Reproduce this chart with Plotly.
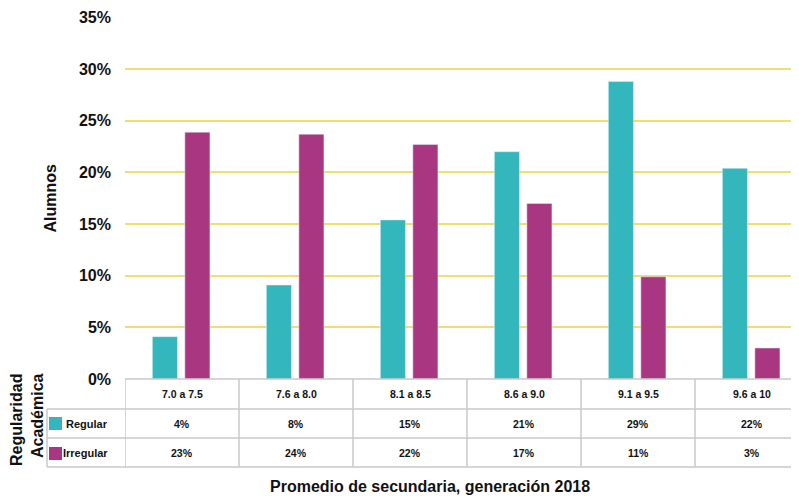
import plotly.graph_objects as go

# ---- data ----
categories = ["7.0 a 7.5", "7.6 a 8.0", "8.1 a 8.5", "8.6 a 9.0", "9.1 a 9.5", "9.6 a 10"]
regular = [4.1, 9.1, 15.4, 22.0, 28.8, 20.4]
irregular = [23.9, 23.7, 22.7, 17.0, 9.9, 3.0]
regular_labels = ["4%", "8%", "15%", "21%", "29%", "22%"]
irregular_labels = ["23%", "24%", "22%", "17%", "11%", "3%"]
series_names = ["Regular", "Irregular"]
y_ticks = [0, 5, 10, 15, 20, 25, 30, 35]

TEAL = "#33B7BD"
MAGENTA = "#A83681"
GRID = "#F2DE70"
BORDER = "#C8C8C8"
TXT = "#111111"
FONT = "Liberation Sans, Arial, Helvetica, sans-serif"

OFF = 8  # page offset of the figure (default body margin)
W, H = 799, 496
PLOT_LEFT_PAGE = 125
ML, MR, MT, MB = PLOT_LEFT_PAGE - OFF, 0, 0, 0
PW, PH = W - ML - MR, H - MT - MB
COL_W = 114.0  # pixel width of one category column


def py(p):  # page pixel y -> paper
    return (H - MB - (p - OFF)) / PH


def px(p):  # page pixel x -> paper
    return ((p - OFF) - ML) / PW


fig = go.Figure()
fig.add_trace(go.Bar(x=categories, y=regular, name=series_names[0], marker_color=TEAL,
                     width=0.22, offset=-0.26, showlegend=False, hoverinfo="x+y"))
fig.add_trace(go.Bar(x=categories, y=irregular, name=series_names[1], marker_color=MAGENTA,
                     width=0.22, offset=0.025, showlegend=False, hoverinfo="x+y"))

# table geometry (page pixel rows)
row_top, row1, row2, row_bot = 379, 409, 438, 467
leg_left = 47

shapes = []
line = dict(color=BORDER, width=1.5)
shapes.append(dict(type="line", xref="paper", yref="paper", x0=0, x1=1, y0=py(row_top), y1=py(row_top), line=line))
for r in (row1, row2, row_bot):
    shapes.append(dict(type="line", xref="paper", yref="paper", x0=px(leg_left), x1=1, y0=py(r), y1=py(r), line=line))
for i in range(len(categories)):
    shapes.append(dict(type="line", xref="x", yref="paper", x0=i - 0.5, x1=i - 0.5,
                       y0=py(row_top), y1=py(row_bot), line=line))
shapes.append(dict(type="line", xref="paper", yref="paper", x0=px(leg_left), x1=px(leg_left),
                   y0=py(row1), y1=py(row_bot), line=line))
for (top, col) in ((417, TEAL), (447, MAGENTA)):
    shapes.append(dict(type="rect", xref="paper", yref="paper", x0=px(49), x1=px(62),
                       y0=py(top + 13), y1=py(top), fillcolor=col, line=dict(width=0)))

ann = []
tf = dict(family=FONT, size=10.5, color=TXT)


def a(**kw):
    d = dict(showarrow=False, xanchor="center", yanchor="middle")
    d.update(kw)
    ann.append(d)


for i, c in enumerate(categories):
    a(x=c, xref="x", yref="paper", y=py((row_top + row1) / 2), text="<b>%s</b>" % c, font=tf)
    a(x=c, xref="x", yref="paper", y=py((row1 + row2) / 2), text="<b>%s</b>" % regular_labels[i], font=tf)
    a(x=c, xref="x", yref="paper", y=py((row2 + row_bot) / 2), text="<b>%s</b>" % irregular_labels[i], font=tf)
a(x=px(64), xref="paper", yref="paper", y=py((row1 + row2) / 2), text="<b>%s</b>" % series_names[0],
  xanchor="left", font=dict(family=FONT, size=11, color=TXT))
a(x=px(61), xref="paper", yref="paper", y=py((row2 + row_bot) / 2), text="<b>%s</b>" % series_names[1],
  xanchor="left", font=dict(family=FONT, size=11, color=TXT))
a(x=px(50), xref="paper", yref="paper", y=py(198.5), text="<b>Alumnos</b>", textangle=-90,
  font=dict(family=FONT, size=16, color=TXT))
a(x=px(27), xref="paper", yref="paper", y=py(419), text="<b>Regularidad<br>Académica</b>",
  textangle=-90, align="right", font=dict(family=FONT, size=16, color=TXT))
a(x=px(430), xref="paper", yref="paper", y=py(486),
  text="<b>Promedio de secundaria, generación 2018</b>", font=dict(family=FONT, size=16, color=TXT))

fig.update_layout(
    width=W, height=H,
    margin=dict(l=ML, r=MR, t=MT, b=MB, pad=0, autoexpand=False),
    paper_bgcolor="white", plot_bgcolor="white",
    font=dict(family=FONT, color=TXT),
    barmode="group",
    shapes=shapes,
    annotations=ann,
    xaxis=dict(type="category", range=[-0.5, -0.5 + PW / COL_W], showticklabels=False,
               showgrid=False, zeroline=False, showline=False, fixedrange=True, automargin=False),
    yaxis=dict(domain=[py(379), py(17.5)], range=[0, 35], tickvals=y_ticks,
               ticktext=["<b>%d%%</b>" % v for v in y_ticks],
               tickfont=dict(family=FONT, size=16, color=TXT),
               showgrid=True, gridcolor=GRID, gridwidth=1.5, zeroline=False, showline=False,
               ticks="", ticklabelstandoff=13, fixedrange=True, automargin=False),
)

fig.write_html("out.html")
